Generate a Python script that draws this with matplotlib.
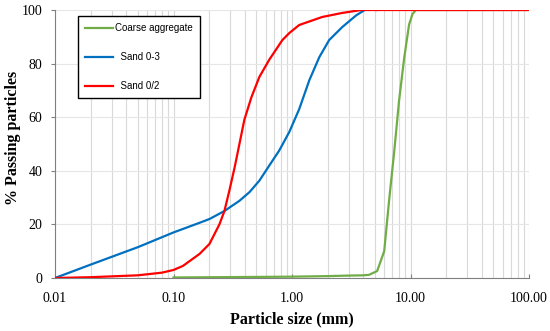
import matplotlib.pyplot as plt
from matplotlib.ticker import FixedLocator, FixedFormatter, LogLocator, NullFormatter

# Sieve curves (particle size in mm, % passing)
coarse_size = [0.10, 0.5, 1.0, 2.0, 3.0, 4.0, 4.48, 5.23, 6.0, 6.6, 7.28, 8.0, 8.84, 9.73, 10.4, 11.1, 100.0]
coarse_pass = [0.2, 0.4, 0.5, 0.7, 0.9, 1.0, 1.2, 2.6, 10.0, 29.0, 47.0, 66.0, 82.0, 94.6, 98.5, 100.0, 100.0]

sand03_size = [0.01, 0.02, 0.05, 0.1, 0.166, 0.201, 0.269, 0.36, 0.437, 0.53, 0.644, 0.781, 0.949,
               1.15, 1.40, 1.70, 2.06, 2.65, 3.48, 4.31, 5.13]
sand03_pass = [0.0, 5.0, 11.5, 17.0, 20.6, 22.0, 25.0, 28.8, 32.0, 36.3, 42.0, 47.6, 54.5,
               63.0, 73.8, 82.4, 88.8, 93.6, 98.0, 100.6, 100.0]

sand02_size = [0.01, 0.02, 0.05, 0.08, 0.1, 0.12, 0.166, 0.201, 0.244, 0.269, 0.296, 0.327, 0.36,
               0.396, 0.454, 0.53, 0.644, 0.83, 0.949, 1.15, 1.8, 2.65, 3.84, 100.0]
sand02_pass = [0.0, 0.3, 1.0, 2.0, 3.0, 4.5, 9.0, 12.7, 20.0, 25.0, 32.6, 41.0, 50.0,
               59.0, 67.4, 75.0, 81.5, 88.8, 91.4, 94.4, 97.4, 98.9, 100.0, 100.0]

x_ticks = [0.01, 0.1, 1, 10, 100]
x_labels = ["0.01", "0.10", "1.00", "10.00", "100.00"]
y_ticks = [0, 20, 40, 60, 80, 100]

fig = plt.figure(figsize=(5.5, 3.31), dpi=100)
ax = fig.add_axes([55 / 550, 1 - 278 / 331, (529 - 55) / 550, (278 - 10) / 331])

ax.plot(coarse_size, coarse_pass, color="#70AD47", lw=1.6, label="Coarse aggregate", zorder=3)
ax.plot(sand03_size, sand03_pass, color="#0070C0", lw=1.6, label="  Sand 0-3", zorder=3)
ax.plot(sand02_size, sand02_pass, color="#FF0000", lw=1.6, label="  Sand 0/2", zorder=4)

ax.set_xscale("log")
ax.set_xlim(0.01, 100)
ax.set_ylim(0, 100)

ax.xaxis.set_major_locator(FixedLocator(x_ticks))
ax.xaxis.set_major_formatter(FixedFormatter(x_labels))
ax.xaxis.set_minor_locator(LogLocator(base=10, subs=range(2, 10)))
ax.xaxis.set_minor_formatter(NullFormatter())
ax.set_yticks(y_ticks)

ax.grid(True, which="both", axis="x", color="#d9d9d9", lw=0.8)
ax.grid(True, which="major", axis="y", color="#e6e6e6", lw=0.8)
ax.set_axisbelow(True)

for side in ["top", "right"]:
    ax.spines[side].set_visible(False)
for side in ["left", "bottom"]:
    ax.spines[side].set_color("#808080")
    ax.spines[side].set_linewidth(0.8)

serif = "Liberation Serif"
ax.tick_params(axis="x", which="major", direction="in", length=3, color="#808080", pad=10)
ax.tick_params(axis="x", which="minor", length=0)
ax.tick_params(axis="y", direction="out", length=3, color="#808080", pad=6)
for lab in ax.get_xticklabels() + ax.get_yticklabels():
    lab.set_fontfamily(serif)
    lab.set_fontsize(10)

ax.set_xlabel("Particle size (mm)", fontfamily=serif, fontweight="bold", fontsize=11.5, va="center")
ax.xaxis.set_label_coords(0.5, -(319 - 278) / 268, transform=ax.transAxes)
ax.set_ylabel("% Passing particles", fontfamily=serif, fontweight="bold", fontsize=11.5, va="center")
ax.yaxis.set_label_coords(-(55 - 13) / 474, (278 - 138) / 268, transform=ax.transAxes)

leg = ax.legend(loc="upper left", bbox_to_anchor=(23 / 474, 1 - 6 / 268), frameon=True, fancybox=False,
                edgecolor="black", framealpha=1, prop={"family": "Liberation Sans", "size": 7},
                handlelength=2.8, labelspacing=1.95, borderpad=0.75, handletextpad=0.3, borderaxespad=0)
leg.get_frame().set_linewidth(1.0)

fig.savefig("out.png", dpi=100)
